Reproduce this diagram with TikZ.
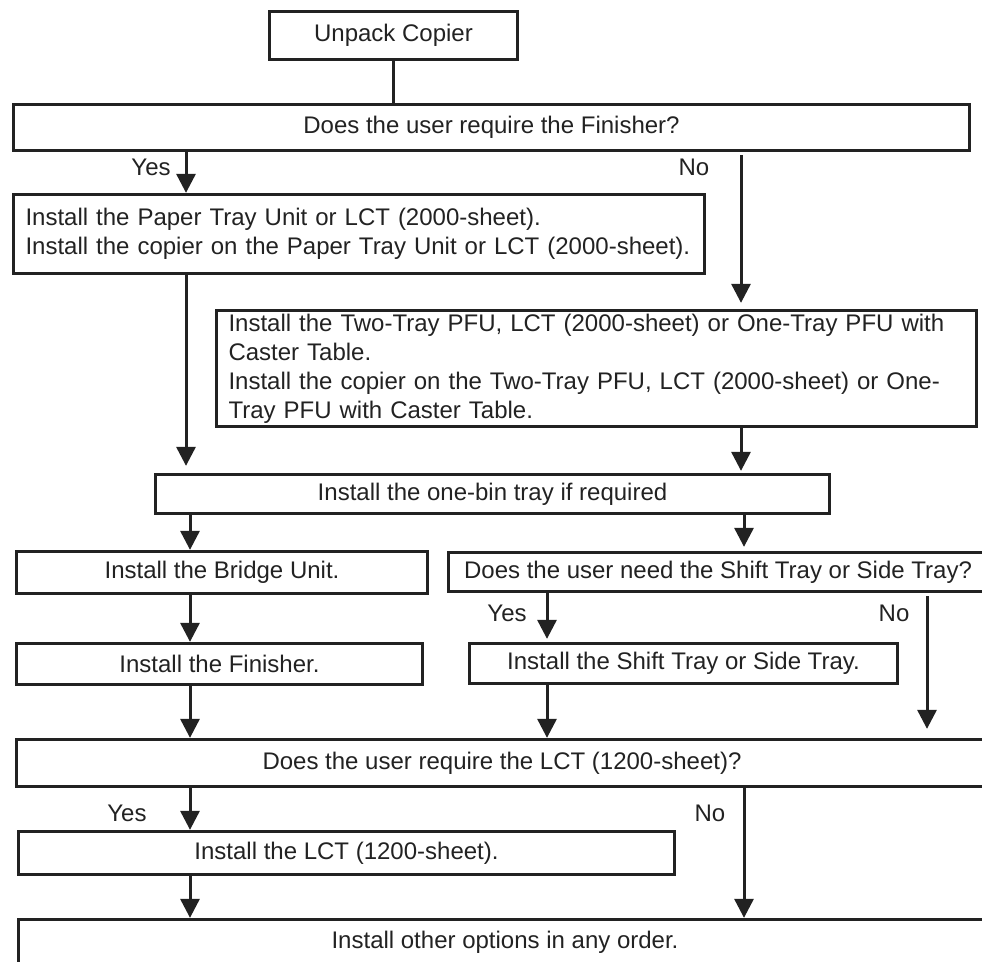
\documentclass[tikz,border=0pt]{standalone}
\usepackage{fontspec}
\setmainfont{Liberation Sans}
\usetikzlibrary{arrows.meta}
\definecolor{ink}{HTML}{222222}
\begin{document}
\begin{tikzpicture}[x=1pt,y=-1pt,
  box/.style={draw=ink, line width=3.3pt, inner sep=0pt, font=\fontsize{24}{29}\selectfont, text=ink},
  lbox/.style={box, align=left},
  arr/.style={draw=ink, line width=3pt, -{Triangle[length=19pt,width=19pt]}},
  conn/.style={draw=ink, line width=2.4pt},
  lbl/.style={font=\fontsize{24}{29}\selectfont, text=ink, inner sep=0pt}]
\useasboundingbox (0,0) rectangle (982,961);
\clip (0,0) rectangle (982,961);

% boxes
\node[box, minimum width=248pt, minimum height=48pt] (unpack) at (393.5,35.5) {Unpack Copier};
\node[box, minimum width=956pt, minimum height=46pt] (q1) at (491.5,127.5) {Does the user require the Finisher?};
\node[lbox, minimum width=691pt, minimum height=79pt, text width=667pt] (ptu) at (359,234)
  {Install the Paper Tray Unit or LCT (2000-sheet).\\Install the copier on the Paper Tray Unit or LCT (2000-sheet).};
\node[lbox, minimum width=760pt, minimum height=116pt, text width=736pt] (pfu) at (596.5,368.5)
  {Install the Two-Tray PFU, LCT (2000-sheet) or One-Tray PFU with\\Caster Table.\\Install the copier on the Two-Tray PFU, LCT (2000-sheet) or One-\\Tray PFU with Caster Table.};
\node[box, minimum width=674pt, minimum height=39pt] (onebin) at (492.5,494) {Install the one-bin tray if required};
\node[box, minimum width=411pt, minimum height=42pt] (bridge) at (222,572.5) {Install the Bridge Unit.};
\node[box, minimum width=406pt, minimum height=41pt] (fin) at (219.5,664) {Install the Finisher.};
\node[box, minimum width=539pt, minimum height=39pt] (q2) at (718,572) {Does the user need the Shift Tray or Side Tray?};
\node[box, minimum width=428pt, minimum height=40pt] (shift) at (683.5,663.5) {Install the Shift Tray or Side Tray.};
\node[box, minimum width=971pt, minimum height=47pt] (q3) at (502,763) {Does the user require the LCT (1200-sheet)?};
\node[box, minimum width=656pt, minimum height=43pt] (lct) at (346.5,853) {Install the LCT (1200-sheet).};
\node[box, minimum width=973pt, minimum height=45pt] (other) at (505,942) {Install other options in any order.};

% x positions of connectors
\coordinate (xa) at (186,0);
\coordinate (xb) at (741,0);
\coordinate (xc) at (190,0);
\coordinate (xd) at (744,0);
\coordinate (xe) at (547,0);
\coordinate (xf) at (927,0);

% connectors
\draw[conn] (unpack.south) -- (unpack.south |- q1.north);
\draw[arr] (q1.south -| xa) -- (ptu.north -| xa);
\draw[arr, shorten <=3pt, shorten >=6pt] (q1.south -| xb) -- (pfu.north -| xb);
\draw[arr, shorten >=7pt] (ptu.south -| xa) -- (onebin.north -| xa);
\draw[arr, shorten >=2pt] (pfu.south -| xb) -- (onebin.north -| xb);
\draw[arr] (onebin.south -| xc) -- (bridge.north -| xc);
\draw[arr, shorten >=4pt] (onebin.south -| xd) -- (q2.north -| xd);
\draw[arr] (bridge.south -| xc) -- (fin.north -| xc);
\draw[arr] (fin.south -| xc) -- (q3.north -| xc);
\draw[arr, shorten >=3pt] (q2.south -| xe) -- (shift.north -| xe);
\draw[arr, shorten <=3pt, shorten >=9pt] (q2.south -| xf) -- (q3.north -| xf);
\draw[arr] (shift.south -| xe) -- (q3.north -| xe);
\draw[arr] (q3.south -| xc) -- (lct.north -| xc);
\draw[arr] (q3.south -| xd) -- (other.north -| xd);
\draw[arr] (lct.south -| xc) -- (other.north -| xc);

% labels
\node[lbl] (y1) at (151,167) {Yes};
\node[lbl] (n1) at (694,167) {No};
\node[lbl] (y2) at (507,613) {Yes};
\node[lbl] (n2) at (894,613) {No};
\node[lbl] (y3) at (127,813) {Yes};
\node[lbl] (n3) at (710,813) {No};
\end{tikzpicture}
\end{document}
